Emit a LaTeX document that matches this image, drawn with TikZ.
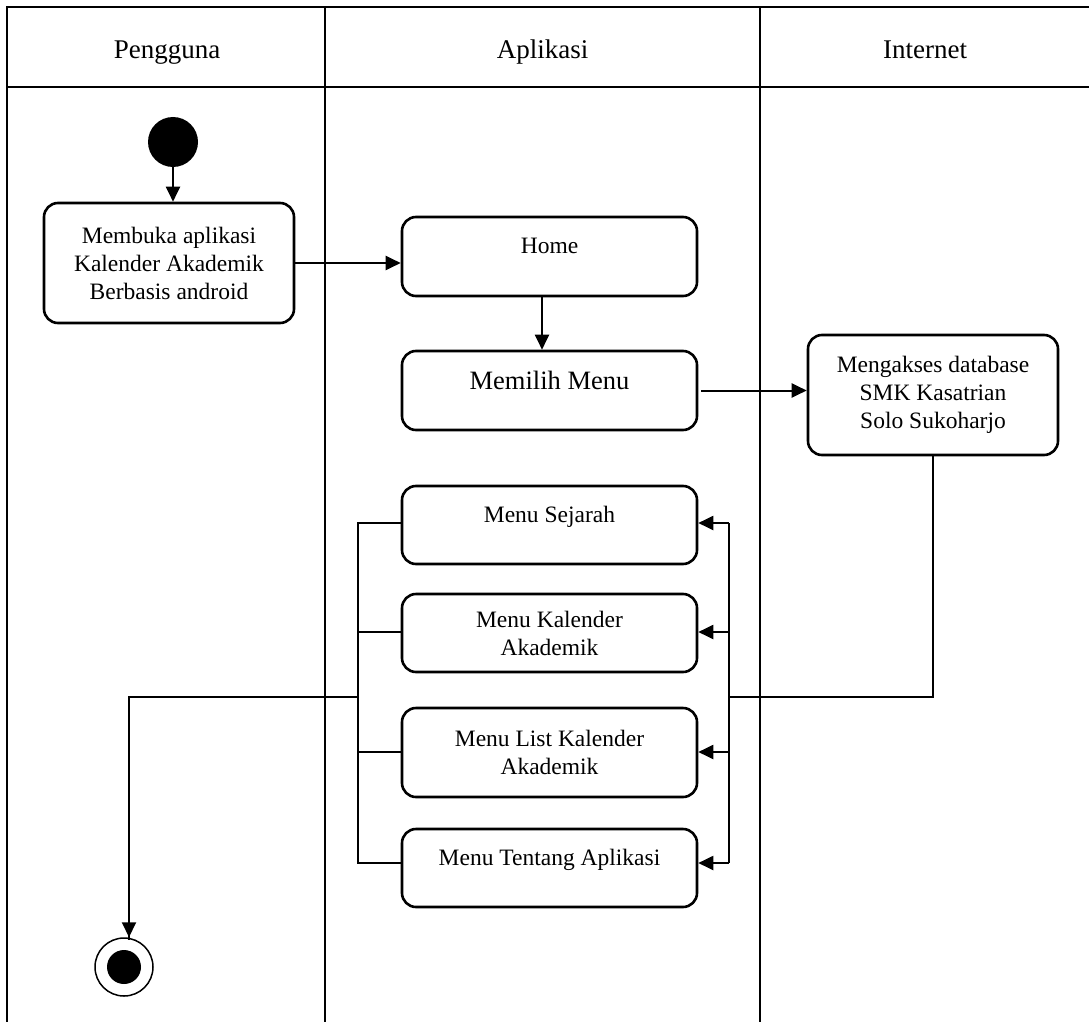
\documentclass[tikz,border=0pt]{standalone}
\usepackage{fontspec}
\setmainfont{Liberation Serif}
\usetikzlibrary{arrows.meta}

\begin{document}
\begin{tikzpicture}[x=1pt,y=-1pt,
  lane/.style={line width=2.2pt},
  act/.style={draw, line width=2.6pt, rounded corners=14pt, align=center,
    inner sep=0pt, font=\fontsize{23.5}{28}\selectfont},
  oneline/.style={text height=16pt, text depth=22pt},
  flow/.style={line width=2pt, -{Triangle[length=15pt,width=14pt]}},
  bus/.style={line width=1.8pt},
  hdr/.style={anchor=base, font=\fontsize{27}{30}\selectfont}
]
\useasboundingbox (0,0) rectangle (1089,1022);

% swimlanes
\draw[lane] (7,1030) -- (7,7) -- (1092,7);
\draw[lane] (7,87) -- (1092,87);
\draw[lane] (325,7) -- (325,1030);
\draw[lane] (760,7) -- (760,1030);
\draw[lane] (1091,7) -- (1091,1030);
\node[hdr] (hpengguna) at (167,59) {Pengguna};
\node[hdr] (haplikasi) at (542.5,59) {Aplikasi};
\node[hdr] (hinternet) at (925,59) {Internet};

% start and end
\node[circle, fill=black, minimum size=50pt, inner sep=0pt] (start) at (173,142) {};
\node[circle, draw, line width=1.5pt, minimum size=58pt, inner sep=0pt,
  path picture={\fill (path picture bounding box.center) circle (17pt);}] (end) at (124,967) {};

% activities
\node[act, minimum width=250pt, minimum height=120pt] (buka) at (169,263)
  {Membuka aplikasi\\Kalender Akademik\\Berbasis android};
\node[act, oneline, minimum width=295pt, minimum height=79pt] (home) at (549.5,256.5) {Home};
\node[act, minimum width=295pt, minimum height=79pt, text height=18pt, text depth=20pt,
  font=\fontsize{26.5}{30}\selectfont] (pilih) at (549.5,390.5) {Memilih Menu};
\node[act, minimum width=250pt, minimum height=120pt] (db) at (933,395)
  {Mengakses database\\SMK Kasatrian\\Solo Sukoharjo};
\node[act, oneline, minimum width=295pt, minimum height=78pt] (sejarah) at (549.5,525) {Menu Sejarah};
\node[act, minimum width=295pt, minimum height=78pt] (kalender) at (549.5,633) {Menu Kalender\\Akademik};
\node[act, minimum width=295pt, minimum height=89pt] (list) at (549.5,752.5) {Menu List Kalender\\Akademik};
\node[act, oneline, minimum width=295pt, minimum height=78pt] (tentang) at (549.5,868) {Menu Tentang Aplikasi};

% main flow
\draw[flow] (start) -- (start |- buka.north);
\draw[flow] (buka.east) -- (buka.east -| home.west);
\draw[flow] ([xshift=-7.5pt]home.south) -- ([xshift=-7.5pt]pilih.north);
\draw[flow] ([xshift=3pt]pilih.east) -- (pilih.east -| db.west);

% junctions of the two buses
\coordinate (rbus) at (729,697);
\coordinate (lbus) at (358,697);

% database result fanned out to the menus
\draw[bus] (db.south) |- (rbus);
\draw[bus] (729,523) -- (729,863);
\draw[flow] (729,523) -- (sejarah.east |- 0,523);
\draw[flow] (729,632) -- (kalender.east |- 0,632);
\draw[flow] (729,752) -- (list.east |- 0,752);
\draw[flow] (729,863) -- (tentang.east |- 0,863);

% menus gathered to the end
\draw[bus] (sejarah.west |- 0,523) -- (358,523) -- (358,863) -- (tentang.west |- 0,863);
\draw[bus] (kalender.west |- 0,632) -- (358,632);
\draw[bus] (list.west |- 0,752) -- (358,752);
\draw[bus] (lbus) -| (129,940);
\draw[flow] (129,930) -- ([xshift=5pt]end.north);
\end{tikzpicture}
\end{document}
